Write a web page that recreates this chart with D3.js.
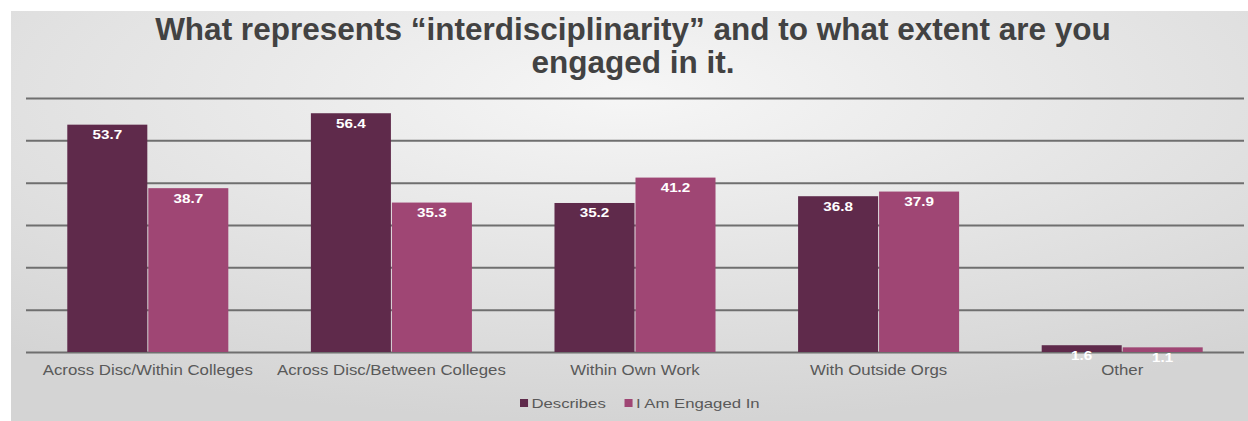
<!DOCTYPE html>
<html>
<head>
<meta charset="utf-8">
<script src="https://cdn.jsdelivr.net/npm/d3@7"></script>
<style>
html,body{margin:0;padding:0;background:#ffffff;}
svg{display:block;}
</style>
</head>
<body>
<svg id="chart" width="1248" height="421"></svg>
<script>
const titleLines = ["What represents \u201cinterdisciplinarity\u201d and to what extent are you", "engaged in it."];
const categories = ["Across Disc/Within Colleges", "Across Disc/Between Colleges", "Within Own Work", "With Outside Orgs", "Other"];
const seriesNames = ["Describes", "I Am Engaged In"];
const describes = [53.7, 56.4, 35.2, 36.8, 1.6];
const engaged = [38.7, 35.3, 41.2, 37.9, 1.1];
const yTicks = [0, 10, 20, 30, 40, 50, 60];
const colors = ["#5f2a4b", "#9f4674"];

const svg = d3.select("#chart");
const W = 1248, H = 421;
const defs = svg.append("defs");
const rg = defs.append("radialGradient").attr("id","bg")
  .attr("cx","50%").attr("cy","20%").attr("r","80%");
rg.append("stop").attr("offset","0%").attr("stop-color","#f6f6f6");
rg.append("stop").attr("offset","100%").attr("stop-color","#d4d4d4");

svg.append("rect").attr("x",11).attr("y",11).attr("width",W-11).attr("height",H-11).attr("fill","url(#bg)");

const x0 = d3.scaleBand().domain(categories).range([26,1244]).paddingInner(0.339).paddingOuter(0.1695);
const x1 = d3.scaleBand().domain(seriesNames).range([0, x0.bandwidth()]).paddingInner(0.012);
const y = d3.scaleLinear().domain([0,60]).range([352,98]);

// gridlines
const yAxis = d3.axisLeft(y).tickValues(yTicks).tickSize(-(1244-26)).tickFormat("");
const gy = svg.append("g").attr("transform","translate(26,0)").call(yAxis);
gy.select(".domain").remove();
gy.selectAll(".tick line").attr("stroke","#6f6f6f").attr("stroke-width",2);

const data = categories.map((c,i)=>({cat:c, vals:[{s:seriesNames[0],v:describes[i]},{s:seriesNames[1],v:engaged[i]}]}));

const groups = svg.append("g").selectAll("g").data(data).join("g")
  .attr("transform", d=>`translate(${x0(d.cat)},0)`);
groups.selectAll("rect").data(d=>d.vals).join("rect")
  .attr("x", d=>x1(d.s)).attr("width", x1.bandwidth())
  .attr("y", d=>y(d.v)).attr("height", d=>y(0)-y(d.v))
  .attr("fill", (d,i)=>colors[i]);

// value labels
groups.selectAll("g.lbl").data(d=>d.vals).join("g").attr("class","lbl")
  .attr("transform", d=>`translate(${x1(d.s)+x1.bandwidth()/2},${y(d.v)+14.5}) scale(1.22,1)`)
  .append("text").attr("text-anchor","middle")
  .attr("font-family","Liberation Sans, Arial, sans-serif").attr("font-weight","bold")
  .attr("font-size",12.5).attr("fill","#ffffff")
  .text(d=>d.v.toFixed(1));

// category axis labels
const xAxis = d3.axisBottom(x0).tickSize(0).tickPadding(0);
const gx = svg.append("g").attr("transform","translate(0,352)").call(xAxis);
gx.select(".domain").remove();
gx.selectAll(".tick text").remove();
gx.selectAll(".tick").append("g").attr("transform","translate(0,23) scale(1.16,1)")
  .append("text").attr("text-anchor","middle")
  .attr("font-family","Liberation Sans, Arial, sans-serif").attr("font-size",14.5)
  .attr("fill","#595959").text(d=>d);

// title
const t = svg.append("text").attr("text-anchor","middle")
  .attr("font-family","Liberation Sans, Arial, sans-serif").attr("font-weight","bold")
  .attr("font-size",31.5).attr("fill","#424242");
titleLines.forEach((l,i)=>t.append("tspan").attr("x",633).attr("y",40+i*33).text(l));

// legend
const leg = svg.append("g").attr("transform","translate(520,408) scale(1.34,1)");
const items = [{n:seriesNames[0],x:0},{n:seriesNames[1],x:78}];
items.forEach((it,i)=>{
  const g = leg.append("g").attr("transform",`translate(${it.x},0)`);
  g.append("rect").attr("x",0).attr("y",-9).attr("width",6).attr("height",8).attr("fill",colors[i]);
  g.append("text").attr("x",8.5).attr("font-family","Liberation Sans, Arial, sans-serif")
    .attr("font-size",12.5).attr("fill","#595959").text(it.n);
});
</script>
</body>
</html>
